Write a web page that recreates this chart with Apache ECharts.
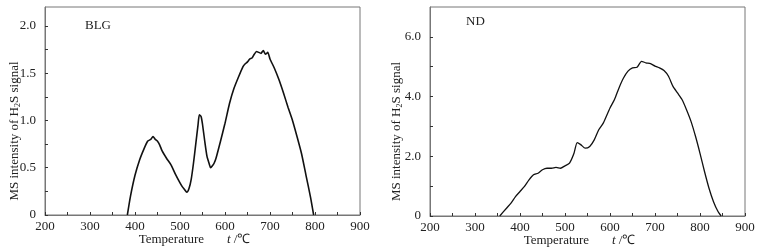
<!DOCTYPE html>
<html>
<head>
<meta charset="utf-8">
<script src="https://cdn.jsdelivr.net/npm/echarts@6/dist/echarts.min.js"></script>
<style>
  html, body { margin: 0; padding: 0; background: #fff; }
  #chart { width: 764px; height: 252px; }
</style>
</head>
<body>
<div id="chart"></div>
<script>
// 温度 (℃) 与 H2S 信号强度
var blgTemp = [383, 390, 400, 410, 420, 428, 435, 440, 445, 450, 455, 460, 470, 480, 490, 500, 505, 510, 515, 520, 525, 530, 535, 540, 543, 547, 550, 555, 560, 565, 568, 572, 576, 580, 590, 600, 610, 620, 630, 640, 645, 650, 655, 660, 665, 670, 675, 680, 685, 690, 695, 700, 710, 720, 730, 740, 750, 760, 770, 780, 790, 797];
var blgValue = [0, 0.2, 0.42, 0.58, 0.7, 0.78, 0.8, 0.83, 0.8, 0.78, 0.74, 0.68, 0.6, 0.53, 0.43, 0.34, 0.3, 0.27, 0.24, 0.28, 0.38, 0.55, 0.75, 0.95, 1.06, 1.04, 0.96, 0.78, 0.62, 0.54, 0.5, 0.52, 0.55, 0.6, 0.78, 0.97, 1.18, 1.34, 1.46, 1.57, 1.6, 1.62, 1.65, 1.66, 1.7, 1.73, 1.72, 1.71, 1.74, 1.7, 1.72, 1.65, 1.55, 1.43, 1.29, 1.14, 1.0, 0.83, 0.65, 0.42, 0.19, 0];

var ndTemp = [355, 370, 380, 390, 400, 410, 420, 430, 440, 450, 460, 470, 480, 490, 500, 510, 520, 527, 535, 545, 555, 565, 575, 585, 600, 610, 620, 630, 640, 650, 660, 670, 680, 690, 700, 710, 720, 730, 740, 750, 760, 770, 780, 790, 800, 810, 820, 830, 840, 847];
var ndValue = [0, 0.26, 0.43, 0.65, 0.82, 0.99, 1.21, 1.38, 1.43, 1.55, 1.6, 1.6, 1.63, 1.6, 1.68, 1.77, 2.1, 2.46, 2.39, 2.27, 2.33, 2.55, 2.89, 3.11, 3.62, 3.9, 4.29, 4.62, 4.85, 4.96, 4.98, 5.18, 5.13, 5.1, 5.02, 4.96, 4.87, 4.68, 4.34, 4.12, 3.9, 3.56, 3.17, 2.67, 2.1, 1.49, 0.93, 0.48, 0.15, 0];

var panelNames = ['BLG', 'ND'];

function pairs(xs, ys) {
    var out = [];
    for (var i = 0; i < xs.length; i++) {
        out.push([xs[i], ys[i]]);
    }
    return out;
}

var FONT = '"Liberation Serif", "Times New Roman", serif';
var BOX = '#777';

function xAxisFor(idx) {
    return {
        type: 'value', gridIndex: idx, min: 200, max: 900, interval: 50,
        name: '{n|Temperature}       {i|t} /℃',
        nameLocation: 'middle', nameGap: 18, nameMoveOverlap: false,
        nameTextStyle: {
            color: '#222', fontFamily: FONT, fontSize: 13,
            padding: [0, 16, 0, 0],
            rich: {
                n: { fontFamily: FONT, fontSize: 13, color: '#222' },
                i: { fontFamily: FONT, fontSize: 13, fontStyle: 'italic', color: '#222' }
            }
        },
        axisLine: { lineStyle: { color: BOX, width: 1 } },
        axisTick: { inside: true, length: 3, lineStyle: { color: '#333' } },
        axisLabel: {
            color: '#222', fontFamily: FONT, fontSize: 13, margin: 5,
            formatter: function (v) { return v % 100 === 0 ? String(v) : ''; }
        },
        splitLine: { show: false }
    };
}

function yAxisFor(idx, max, step, labelStep, gap) {
    return {
        type: 'value', gridIndex: idx, min: 0, max: max, interval: step,
        name: '{n|MS intensity of H}{s|2}{n|S signal}',
        nameLocation: 'middle', nameGap: gap, nameRotate: 90, nameMoveOverlap: false,
        nameTextStyle: {
            color: '#222', fontFamily: FONT, fontSize: 13,
            padding: [0, 40, 0, 0],
            rich: {
                n: { fontFamily: FONT, fontSize: 13, color: '#222' },
                s: { fontFamily: FONT, fontSize: 8, color: '#222', verticalAlign: 'bottom', padding: [6, 0, 0, 0] }
            }
        },
        axisLine: { lineStyle: { color: BOX, width: 1 } },
        axisTick: { inside: true, length: 3, lineStyle: { color: '#333' } },
        axisLabel: {
            color: '#222', fontFamily: FONT, fontSize: 13, margin: 9,
            showMaxLabel: false,
            formatter: function (v) {
                var k = Math.round(v / labelStep * 1000) / 1000;
                if (k !== Math.round(k)) return '';
                return v === 0 ? '0' : v.toFixed(1);
            }
        },
        splitLine: { show: false }
    };
}

var chart = echarts.init(document.getElementById('chart'));

var option = {
    animation: false,
    backgroundColor: '#fff',
    title: [
        { text: panelNames[0], left: 85, top: 19, padding: 0, textStyle: { fontFamily: FONT, fontSize: 13, fontWeight: 'normal', color: '#222' } },
        { text: panelNames[1], left: 466, top: 15, padding: 0, textStyle: { fontFamily: FONT, fontSize: 13, fontWeight: 'normal', color: '#222' } }
    ],
    grid: [
        { left: 45, right: 404, top: 7, bottom: 37, outerBoundsMode: 'none', show: true, borderColor: BOX, borderWidth: 1 },
        { left: 430, right: 19, top: 7, bottom: 36, outerBoundsMode: 'none', show: true, borderColor: BOX, borderWidth: 1 }
    ],
    xAxis: [xAxisFor(0), xAxisFor(1)],
    yAxis: [yAxisFor(0, 2.2, 0.25, 0.5, 23), yAxisFor(1, 7, 1, 2, 26)],
    series: [
        {
            type: 'line', xAxisIndex: 0, yAxisIndex: 0,
            data: pairs(blgTemp, blgValue),
            showSymbol: false, smooth: 0.2,
            lineStyle: { color: '#111', width: 1.6 }
        },
        {
            type: 'line', xAxisIndex: 1, yAxisIndex: 1,
            data: pairs(ndTemp, ndValue),
            showSymbol: false, smooth: 0.2,
            lineStyle: { color: '#111', width: 1.3 }
        }
    ]
};

chart.setOption(option);
</script>
</body>
</html>
